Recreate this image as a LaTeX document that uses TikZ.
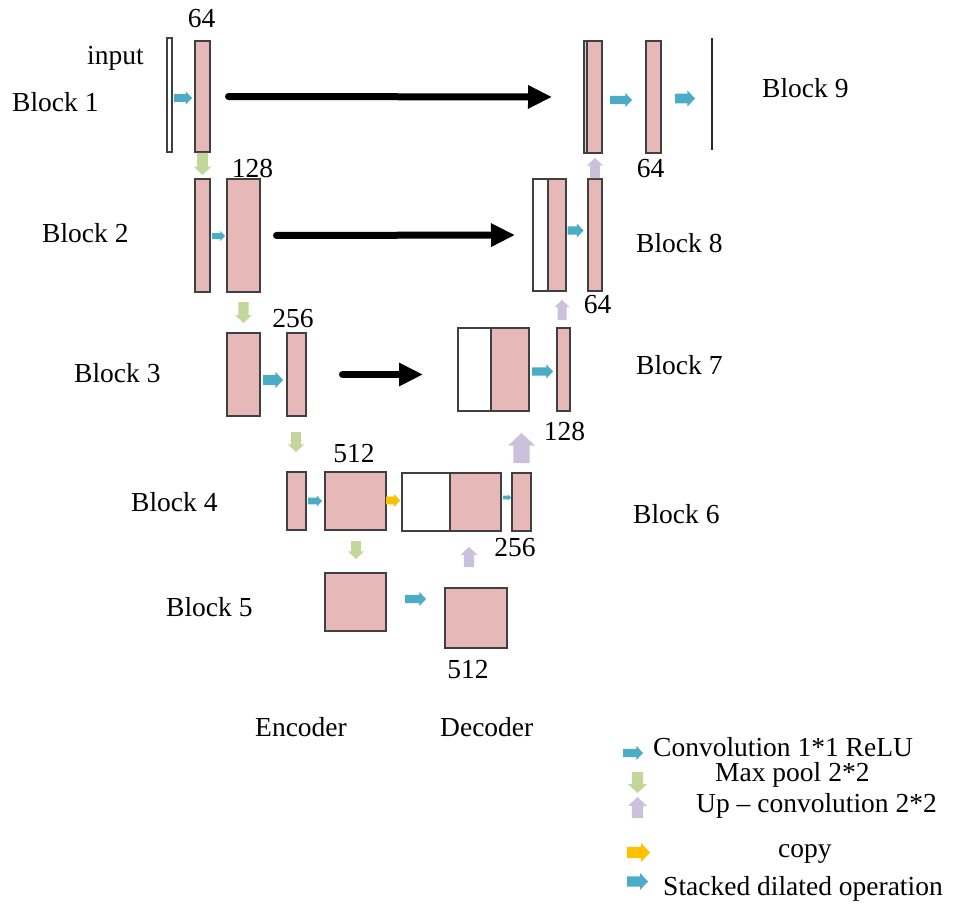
\documentclass[tikz,border=0pt]{standalone}
\usepackage{fontspec}
\setmainfont{Liberation Serif}
\usetikzlibrary{arrows.meta}

\definecolor{boxpink}{HTML}{E6B9B8}
\definecolor{boxline}{HTML}{404040}
\definecolor{convcyan}{HTML}{4BACC6}
\definecolor{poolgreen}{HTML}{C3D69B}
\definecolor{uplav}{HTML}{CCC1DA}
\definecolor{copyyellow}{HTML}{FFC000}

\tikzset{
  fmap/.style 2 args={draw=boxline, line width=1.3pt, fill=boxpink, inner sep=0pt,
    outer sep=0pt, minimum width=#1, minimum height=#2},
  cmap/.style 2 args={fmap={#1}{#2}, fill=white},
  % block arrow glyph pointing east; length and head width are set by keys
  arrowlen/.store in=\arlen, arrowwid/.store in=\arwid,
  arrowlen=20, arrowwid=14,
  blockarrow/.pic={
    \fill[pic actions]
      ({-\arlen/2},{-0.3*\arwid}) -- ({\arlen/2-0.47*\arwid},{-0.3*\arwid})
      -- ({\arlen/2-0.47*\arwid},{-\arwid/2}) -- ({\arlen/2},0)
      -- ({\arlen/2-0.47*\arwid},{\arwid/2}) -- ({\arlen/2-0.47*\arwid},{0.3*\arwid})
      -- ({-\arlen/2},{0.3*\arwid}) -- cycle;
  },
  conv/.style 2 args={arrowlen=#1, arrowwid=#2, fill=convcyan},
  pool/.style 2 args={arrowlen=#1, arrowwid=#2, fill=poolgreen, rotate=-90},
  upc/.style 2 args={arrowlen=#1, arrowwid=#2, fill=uplav, rotate=90},
  copyc/.style 2 args={arrowlen=#1, arrowwid=#2, fill=copyyellow},
  skip/.style={line width=7pt, line cap=round, -{Triangle[length=24pt,width=22pt]}},
  txt/.style={font=\fontsize{27.5}{33}\selectfont, inner sep=0pt, anchor=base west},
  num/.style={txt, anchor=base},
}

\begin{document}
\begin{tikzpicture}[x=1pt,y=-1pt]
\useasboundingbox (0,0) rectangle (965,904);

% ---- encoder feature maps ----
\node[cmap={5}{114}] (b1in) at (169.5,95) {};
\node[fmap={15}{111}] (b1c) at (202.5,96.5) {};
\node[fmap={15}{113}] (b2a) at (202.5,235.5) {};
\node[fmap={33}{113}] (b2b) at (243.5,235.5) {};
\node[fmap={33}{83}] (b3a) at (243.5,374.5) {};
\node[fmap={19}{83}] (b3b) at (296.5,374.5) {};
\node[fmap={19}{58}] (b4a) at (296.5,501) {};
\node[fmap={61}{58}] (b4b) at (355.5,501) {};
\node[fmap={61}{58}] (b5a) at (355.5,602) {};
\node[fmap={62}{60}] (b5b) at (476,618) {};

% ---- decoder feature maps ----
\node[cmap={48}{58}] (b6w) at (426,502) {};
\node[fmap={51}{58}] (b6p) at (475.5,502) {};
\node[fmap={19}{58}] (b6c) at (521.5,502) {};
\node[cmap={33}{83}] (b7w) at (474.5,369.5) {};
\node[fmap={38}{83}] (b7p) at (510,369.5) {};
\node[fmap={13}{83}] (b7c) at (563.5,369.5) {};
\node[cmap={15}{112}] (b8w) at (540.5,235) {};
\node[fmap={18}{112}] (b8p) at (557,235) {};
\node[fmap={14}{112}] (b8c) at (595,235) {};
\node[fmap={3}{112}, fill=gray!35] (b9g) at (585.5,97) {};
\node[fmap={15}{112}] (b9p) at (594.5,97) {};
\node[fmap={15}{112}] (b9c) at (653.5,97) {};
\coordinate (outtop) at (712,38);
\coordinate (outbot) at (712,150);
\draw[line width=2.5pt, black!85] (outtop) -- (outbot);

% ---- convolution arrows ----
\pic[conv={18}{13}] (c1) at (183,98) {blockarrow};
\pic[conv={13}{10}] (c2) at (218.5,236) {blockarrow};
\pic[conv={20}{16}] (c3) at (273,380) {blockarrow};
\pic[conv={14}{11}] (c4) at (315,501) {blockarrow};
\pic[conv={21}{14}] (c5) at (415.5,599) {blockarrow};
\pic[conv={8}{6}] (c6) at (507,497.5) {blockarrow};
\pic[conv={21}{14}] (c7) at (542.5,371.5) {blockarrow};
\pic[conv={16}{14}] (c8) at (575.5,230.5) {blockarrow};
\pic[conv={22}{14}] (c9) at (621,100) {blockarrow};
\pic[conv={20}{16}] (c10) at (685,98.5) {blockarrow};
\pic[copyc={14}{13}] (cp) at (393,500.5) {blockarrow};

% ---- max pool arrows ----
\pic[pool={22}{18}] (p1) at (202.5,164) {blockarrow};
\pic[pool={21}{17}] (p2) at (243.5,312.5) {blockarrow};
\pic[pool={20}{16}] (p3) at (296,442) {blockarrow};
\pic[pool={18}{16}] (p4) at (356,550) {blockarrow};

% ---- up-convolution arrows ----
\pic[upc={20}{16}] (u1) at (595,168) {blockarrow};
\pic[upc={20}{15}] (u2) at (562,310) {blockarrow};
\pic[upc={30}{27}] (u3) at (521.5,448) {blockarrow};
\pic[upc={20}{17}] (u4) at (469,557) {blockarrow};

% ---- skip connections ----
\draw[skip, shorten <=18.5pt, shorten >=32pt] (b1c.east) -- (b9g.west);
\draw[skip, shorten <=16.5pt, shorten >=18pt] (b2b.east) -- (b8w.west);
\draw[skip, shorten <=36.5pt, shorten >=35pt] (b3b.east) -- (b3b.east -| b7w.west);

% ---- channel counts ----
\node[num] (n64a) at (201.5,28) {64};
\node[num] (n128a) at (252.5,177) {128};
\node[num] (n256a) at (293,327) {256};
\node[num] (n512a) at (354,462) {512};
\node[num] (n512b) at (468,678) {512};
\node[num] (n256b) at (515,556) {256};
\node[num] (n128b) at (564.5,440) {128};
\node[num] (n64b) at (597.5,313) {64};
\node[num] (n64c) at (650.5,177) {64};

% ---- block labels ----
\node[txt] (linput) at (87,65) {input};
\node[txt] (l1) at (12,112) {Block 1};
\node[txt] (l2) at (42,242) {Block 2};
\node[txt] (l3) at (74,382) {Block 3};
\node[txt] (l4) at (131,511) {Block 4};
\node[txt] (l5) at (166,616) {Block 5};
\node[txt] (l6) at (633,523) {Block 6};
\node[txt] (l7) at (636,374) {Block 7};
\node[txt] (l8) at (636,252) {Block 8};
\node[txt] (l9) at (762,98) {Block 9};
\node[txt] (lenc) at (255,736) {Encoder};
\node[txt] (ldec) at (440,736) {Decoder};

% ---- legend ----
\pic[conv={20}{14}] (k1) at (633,753) {blockarrow};
\pic[pool={21}{19}] (k2) at (637.5,782.5) {blockarrow};
\pic[upc={21}{19}] (k3) at (637.5,807.5) {blockarrow};
\pic[copyc={23}{19}] (k4) at (638.5,852.5) {blockarrow};
\pic[conv={21}{17}] (k5) at (637.5,881.5) {blockarrow};
\node[txt] (t1) at (653,756) {Convolution 1*1 ReLU};
\node[txt] (t2) at (715,781) {Max pool 2*2};
\node[txt] (t3) at (696,812) {Up – convolution 2*2};
\node[txt] (t4) at (778,857) {copy};
\node[txt] (t5) at (663,895) {Stacked dilated operation};
\end{tikzpicture}
\end{document}
